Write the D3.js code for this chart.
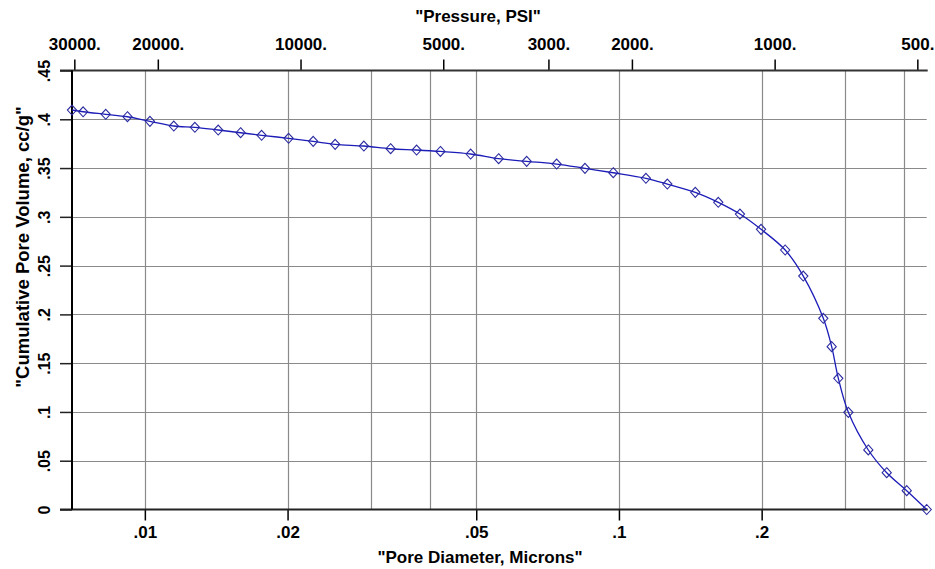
<!DOCTYPE html>
<html>
<head>
<meta charset="utf-8">
<script src="https://cdn.jsdelivr.net/npm/d3@7"></script>
<style>
  html, body { margin: 0; padding: 0; background: #fff; }
  svg { display: block; }
  text { font-family: "Liberation Sans", Arial, sans-serif; font-weight: bold; fill: #000; }
</style>
</head>
<body>
<svg id="chart" width="935" height="569"></svg>
<script>
// Pore diameter (microns) of each measured point
const poreDiameter = [0.00702, 0.00741, 0.00827, 0.00919, 0.01025, 0.01151, 0.01275, 0.01428, 0.01592, 0.01763,
  0.02010, 0.02265, 0.02520, 0.02897, 0.03299, 0.03743, 0.04202, 0.04866, 0.05575, 0.06388,
  0.07389, 0.08479, 0.09727, 0.1140, 0.1265, 0.1449, 0.1620, 0.1800, 0.1994, 0.2242,
  0.2448, 0.2698, 0.2810, 0.2902, 0.3047, 0.3357, 0.3671, 0.4046, 0.4458];
// Cumulative pore volume, cc/g
const poreVolume = [0.4095, 0.4077, 0.4051, 0.4026, 0.3979, 0.3931, 0.3918, 0.3890, 0.3862, 0.3836,
  0.3805, 0.3774, 0.3743, 0.3726, 0.3698, 0.3685, 0.3670, 0.3644, 0.3596, 0.3569,
  0.3541, 0.3497, 0.3452, 0.3395, 0.3336, 0.3251, 0.3149, 0.3029, 0.2872, 0.2660,
  0.2393, 0.1960, 0.1669, 0.1345, 0.0996, 0.0610, 0.0377, 0.0193, 0.0];

const diameterTicks = [0.01, 0.02, 0.05, 0.1, 0.2];
const diameterTickLabels = [".01", ".02", ".05", ".1", ".2"];
const diameterGrid = [0.01, 0.02, 0.03, 0.04, 0.05, 0.1, 0.2, 0.3, 0.4];
const pressureTicks = [30000, 20000, 10000, 5000, 3000, 2000, 1000, 500];
const pressureTickLabels = ["30000.", "20000.", "10000.", "5000.", "3000.", "2000.", "1000.", "500."];
const volumeTicks = [0, 0.05, 0.1, 0.15, 0.2, 0.25, 0.3, 0.35, 0.4, 0.45];
const volumeTickLabels = ["0", ".05", ".1", ".15", ".2", ".25", ".3", ".35", ".4", ".45"];
const washburnConst = 213; // PSI * micron

(function () {
const svg = d3.select("#chart");
const pLeft = 72, pRight = 926.7, pTop = 70.5, pBottom = 509.5;
const dMin = 0.00702, dMax = 0.4458;

const x = d3.scaleLog().domain([dMin, dMax]).range([pLeft, pRight]);
const xp = d3.scaleLog().domain([washburnConst / dMin, washburnConst / dMax]).range([pLeft, pRight]);
const y = d3.scaleLinear().domain([0, 0.45]).range([pBottom, pTop]);

// grid
const grid = svg.append("g").attr("stroke", "#8a8a8a").attr("stroke-width", 1.2);
grid.selectAll("line.v").data(diameterGrid).enter().append("line")
  .attr("x1", d => Math.round(x(d)) + 0.5).attr("x2", d => Math.round(x(d)) + 0.5)
  .attr("y1", pTop).attr("y2", pBottom);
grid.selectAll("line.h").data(volumeTicks.slice(1, -1)).enter().append("line")
  .attr("x1", pLeft).attr("x2", pRight)
  .attr("y1", d => Math.round(y(d)) + 0.5).attr("y2", d => Math.round(y(d)) + 0.5);

// bottom axis
const bAxis = d3.axisBottom(x).tickValues(diameterTicks)
  .tickFormat((d, i) => diameterTickLabels[i]).tickSizeOuter(0).tickSizeInner(11).tickPadding(5);
const gb = svg.append("g").attr("transform", `translate(0,${pBottom})`).call(bAxis);
gb.attr("font-family", null).attr("font-size", null);
gb.select(".domain").remove();
gb.selectAll(".tick line").attr("stroke", "#000").attr("stroke-width", 1.5);
gb.selectAll(".tick text").attr("font-size", 17);
svg.append("line").attr("x1", 60).attr("x2", pRight + 1).attr("y1", pBottom).attr("y2", pBottom)
  .attr("stroke", "#222").attr("stroke-width", 2);

// top axis
const tAxis = d3.axisTop(xp).tickValues(pressureTicks)
  .tickFormat((d, i) => pressureTickLabels[i]).tickSizeOuter(0).tickSizeInner(11).tickPadding(10);
const gt = svg.append("g").attr("transform", `translate(0,${pTop})`).call(tAxis);
gt.attr("font-family", null).attr("font-size", null);
gt.select(".domain").remove();
gt.selectAll(".tick line").attr("stroke", "#000").attr("stroke-width", 1.5);
gt.selectAll(".tick text").attr("font-size", 17);
svg.append("line").attr("x1", 60).attr("x2", pRight + 1).attr("y1", pTop).attr("y2", pTop)
  .attr("stroke", "#333").attr("stroke-width", 2);

// left axis
const lAxis = d3.axisLeft(y).tickValues(volumeTicks)
  .tickFormat((d, i) => volumeTickLabels[i]).tickSizeOuter(0).tickSizeInner(12).tickPadding(10);
const gl = svg.append("g").attr("transform", `translate(${pLeft},0)`).call(lAxis);
gl.attr("font-family", null).attr("font-size", null);
gl.select(".domain").remove();
gl.selectAll(".tick line").attr("stroke", "#222").attr("stroke-width", 1.5);
gl.selectAll(".tick text").attr("font-size", 16)
  .attr("text-anchor", "middle").attr("x", null).attr("dy", null)
  .attr("transform", "translate(-22,0) rotate(-90)");
svg.append("line").attr("x1", pLeft).attr("x2", pLeft).attr("y1", pTop).attr("y2", pBottom)
  .attr("stroke", "#000").attr("stroke-width", 2);

// titles
svg.append("text").attr("x", 478).attr("y", 22).attr("text-anchor", "middle")
  .attr("font-size", 17).text('"Pressure, PSI"');
svg.append("text").attr("x", 480).attr("y", 563).attr("text-anchor", "middle")
  .attr("font-size", 17).text('"Pore Diameter, Microns"');
svg.append("text").attr("transform", "translate(29,247) rotate(-90)").attr("text-anchor", "middle")
  .attr("font-size", 18.5).text('"Cumulative Pore Volume, cc/g"');

// series
const pts = poreDiameter.map((d, i) => [d, poreVolume[i]]);
const line = d3.line().x(d => x(d[0])).y(d => y(d[1])).curve(d3.curveCatmullRom.alpha(0.5));
svg.append("path").datum(pts).attr("d", line)
  .attr("fill", "none").attr("stroke", "#1c1cb8").attr("stroke-width", 1.3);
const diamond = "M0,-5L4.6,0L0,5L-4.6,0Z";
svg.append("g").selectAll("path").data(pts).enter().append("path")
  .attr("transform", d => `translate(${x(d[0])},${y(d[1])})`)
  .attr("d", diamond).attr("fill", "none").attr("stroke", "#2a2aa0").attr("stroke-width", 1.1);
})();
</script>
</body>
</html>
